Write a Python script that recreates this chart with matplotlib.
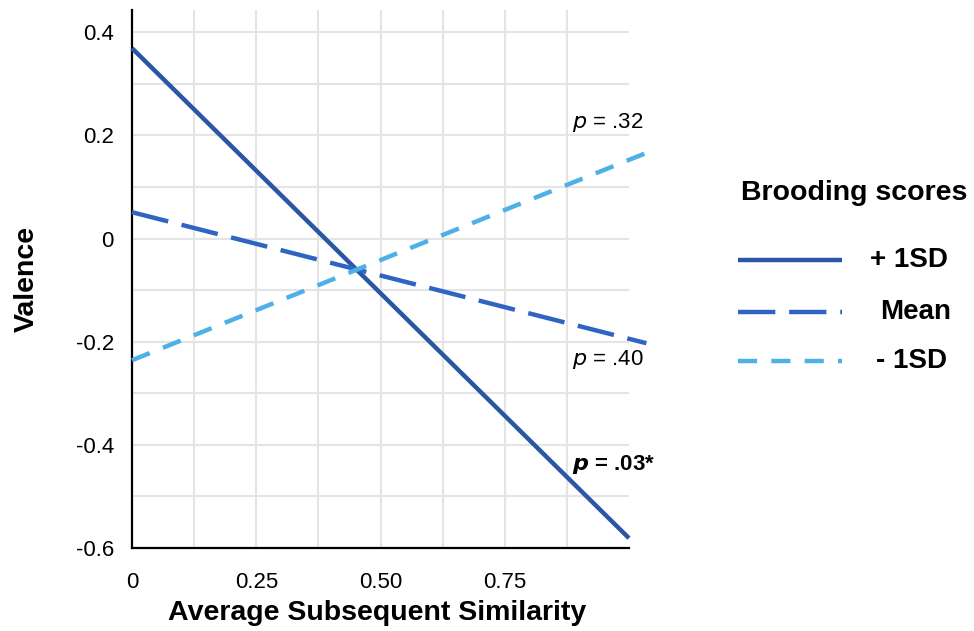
import matplotlib
matplotlib.use("Agg")
import matplotlib.pyplot as plt
from matplotlib.lines import Line2D
import numpy as np

plt.rcParams['font.family'] = ['Liberation Sans', 'DejaVu Sans']

# ---- data ----
series_names = ["+ 1SD", "Mean", "- 1SD"]
plus_1sd_x = [0.0, 1.0]
plus_1sd = [0.369, -0.581]
mean_x = [0.0, 1.035]
mean_vals = [0.051, -0.203]
minus_1sd_x = [0.0, 1.035]
minus_1sd = [-0.236, 0.166]
p_labels = ["p = .32", "p = .40", "p = .03*"]
x_tick_vals = [0, 0.25, 0.5, 0.75]
x_tick_labels = ["0", "0.25", "0.50", "0.75"]
y_tick_vals = [-0.6, -0.4, -0.2, 0, 0.2, 0.4]
y_tick_labels = ["-0.6", "-0.4", "-0.2", "0", "0.2", "0.4"]

colors = ["#2B56A6", "#2F64C3", "#4DB0E6"]

W, H = 974, 631
fig = plt.figure(figsize=(W / 100, H / 100), dpi=100)
ax_l, ax_r, ax_t, ax_b = 132, 629, 10, 548
ax = fig.add_axes([ax_l / W, 1 - ax_b / H, (ax_r - ax_l) / W, (ax_b - ax_t) / H])

ax.set_xlim(0, 1.0)
ax.set_ylim(-0.6, 0.443)

ax.set_xticks(x_tick_vals)
ax.set_xticklabels(x_tick_labels)
ax.set_xticks(np.arange(1, 8) * 0.125, minor=True)
ax.set_yticks(y_tick_vals)
ax.set_yticklabels(y_tick_labels)
ax.set_yticks(np.arange(-5, 5, 2) * 0.1, minor=True)

ax.grid(True, which='both', color='#e4e4e4', linewidth=1.5)
ax.set_axisbelow(True)
ax.tick_params(which='both', length=0)
ax.tick_params(axis='x', labelsize=16, pad=17)
ax.tick_params(axis='y', labelsize=16, pad=13)

for s in ['top', 'right']:
    ax.spines[s].set_visible(False)
for s in ['left', 'bottom']:
    ax.spines[s].set_linewidth(1.6)
    ax.spines[s].set_color('black')

lw = 3.2
styles = ["-", (0, (8.4, 3.1)), (0, (4.3, 3.2))]
xs = [plus_1sd_x, mean_x, minus_1sd_x]
data = [plus_1sd, mean_vals, minus_1sd]
for xv, vals, c, ls, name in zip(xs, data, colors, styles, series_names):
    ax.plot(xv, vals, color=c, lw=lw, linestyle=ls, label=name,
            solid_capstyle='butt', dash_capstyle='butt', clip_on=False, zorder=3)

# p-value annotations
ax.text(0.885, 0.214, r"$\it{p}$ = .32", fontsize=16, ha='left', va='baseline')
ax.text(0.885, -0.245, r"$\it{p}$ = .40", fontsize=16, ha='left', va='baseline')
ax.text(0.885, -0.449, r"$\boldsymbol{p}$ = .03*", fontsize=16, ha='left',
        va='baseline', fontweight='bold')

ax.set_xlabel("Average Subsequent Similarity", fontsize=20.5, fontweight='bold')
ax.xaxis.set_label_coords(0.493, -0.121)
ax.xaxis.label.set_va('center')
ax.set_ylabel("Valence", fontsize=20.5, fontweight='bold')
ax.yaxis.set_label_coords(-0.211, 0.5)
ax.yaxis.label.set_va('center')

# legend (manual, figure pixel layout)
def fx(px):
    return px / W

def fy(py):
    return 1 - py / H

fig.text(fx(854), fy(193), "Brooding scores", fontsize=20.5, fontweight='bold',
         ha='center', va='center')
leg_y = [260, 312, 361]
text_x = [909, 916, 912]
for name, c, ls, y, tx in zip(series_names, colors, styles, leg_y, text_x):
    fig.add_artist(Line2D([fx(738), fx(842)], [fy(y), fy(y)], color=c, lw=lw,
                          linestyle=ls, solid_capstyle='butt', dash_capstyle='butt',
                          transform=fig.transFigure))
    fig.text(fx(tx), fy(y), name, fontsize=20, fontweight='bold', ha='center', va='center')

fig.savefig("out.png", dpi=100)
